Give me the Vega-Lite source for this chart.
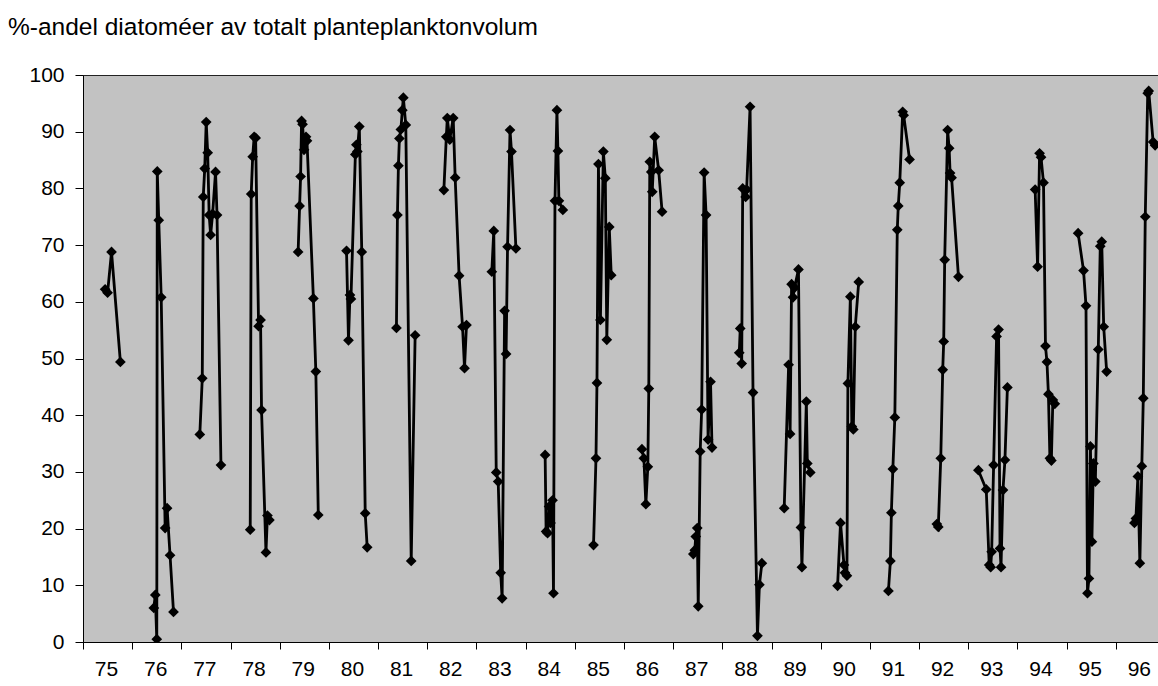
{
  "$schema": "https://vega.github.io/schema/vega-lite/v6.json",
  "width": 1075,
  "height": 567,
  "autosize": {"type": "none"},
  "padding": {"left": 83, "top": 75, "right": 0, "bottom": 44},
  "background": "white",
  "title": {
    "text": "%-andel diatoméer av totalt planteplanktonvolum",
    "anchor": "start",
    "frame": "group",
    "dx": -75,
    "offset": 24,
    "fontSize": 24.5,
    "font": "Liberation Sans",
    "fontWeight": "normal",
    "color": "#000000"
  },
  "config": {
    "view": {"fill": "#c2c2c2", "stroke": "#222222", "strokeWidth": 1},
    "axis": {
      "labelFont": "Liberation Sans",
      "labelFontSize": 21,
      "labelColor": "#000000",
      "domainColor": "#000000",
      "tickColor": "#000000",
      "grid": false,
      "title": null
    }
  },
  "data": {
    "values": [
      {"season": 75, "yr": 75.45, "pct": 62.2}, {"season": 75, "yr": 75.50, "pct": 61.6}, {"season": 75, "yr": 75.58, "pct": 68.8}, {"season": 75, "yr": 75.76, "pct": 49.4},
      {"season": 76, "yr": 76.44, "pct": 6.0}, {"season": 76, "yr": 76.47, "pct": 8.3}, {"season": 76, "yr": 76.50, "pct": 0.5}, {"season": 76, "yr": 76.51, "pct": 83.0}, {"season": 76, "yr": 76.54, "pct": 74.4}, {"season": 76, "yr": 76.59, "pct": 60.8}, {"season": 76, "yr": 76.67, "pct": 20.1}, {"season": 76, "yr": 76.71, "pct": 23.6}, {"season": 76, "yr": 76.77, "pct": 15.3}, {"season": 76, "yr": 76.84, "pct": 5.3},
      {"season": 77, "yr": 77.375, "pct": 36.6}, {"season": 77, "yr": 77.425, "pct": 46.5}, {"season": 77, "yr": 77.445, "pct": 78.5}, {"season": 77, "yr": 77.475, "pct": 83.5}, {"season": 77, "yr": 77.505, "pct": 91.7}, {"season": 77, "yr": 77.535, "pct": 86.3}, {"season": 77, "yr": 77.565, "pct": 75.3}, {"season": 77, "yr": 77.595, "pct": 71.8}, {"season": 77, "yr": 77.635, "pct": 75.5}, {"season": 77, "yr": 77.695, "pct": 82.9}, {"season": 77, "yr": 77.725, "pct": 75.3}, {"season": 77, "yr": 77.805, "pct": 31.2},
      {"season": 78, "yr": 78.40, "pct": 19.8}, {"season": 78, "yr": 78.42, "pct": 79.0}, {"season": 78, "yr": 78.45, "pct": 85.6}, {"season": 78, "yr": 78.48, "pct": 89.1}, {"season": 78, "yr": 78.51, "pct": 88.9}, {"season": 78, "yr": 78.57, "pct": 55.7}, {"season": 78, "yr": 78.61, "pct": 56.8}, {"season": 78, "yr": 78.63, "pct": 40.9}, {"season": 78, "yr": 78.72, "pct": 15.8}, {"season": 78, "yr": 78.75, "pct": 22.3}, {"season": 78, "yr": 78.79, "pct": 21.5},
      {"season": 79, "yr": 79.374, "pct": 68.8}, {"season": 79, "yr": 79.404, "pct": 76.9}, {"season": 79, "yr": 79.424, "pct": 82.1}, {"season": 79, "yr": 79.444, "pct": 91.9}, {"season": 79, "yr": 79.464, "pct": 91.3}, {"season": 79, "yr": 79.494, "pct": 86.8}, {"season": 79, "yr": 79.534, "pct": 89.1}, {"season": 79, "yr": 79.554, "pct": 88.4}, {"season": 79, "yr": 79.684, "pct": 60.6}, {"season": 79, "yr": 79.734, "pct": 47.7}, {"season": 79, "yr": 79.784, "pct": 22.4},
      {"season": 80, "yr": 80.358, "pct": 69.0}, {"season": 80, "yr": 80.398, "pct": 53.2}, {"season": 80, "yr": 80.428, "pct": 61.2}, {"season": 80, "yr": 80.448, "pct": 60.5}, {"season": 80, "yr": 80.538, "pct": 86.0}, {"season": 80, "yr": 80.558, "pct": 87.7}, {"season": 80, "yr": 80.578, "pct": 86.5}, {"season": 80, "yr": 80.618, "pct": 90.9}, {"season": 80, "yr": 80.668, "pct": 68.8}, {"season": 80, "yr": 80.738, "pct": 22.7}, {"season": 80, "yr": 80.778, "pct": 16.7},
      {"season": 81, "yr": 81.373, "pct": 55.4}, {"season": 81, "yr": 81.393, "pct": 75.3}, {"season": 81, "yr": 81.413, "pct": 84.0}, {"season": 81, "yr": 81.433, "pct": 88.8}, {"season": 81, "yr": 81.463, "pct": 90.4}, {"season": 81, "yr": 81.493, "pct": 93.8}, {"season": 81, "yr": 81.513, "pct": 96.0}, {"season": 81, "yr": 81.563, "pct": 91.2}, {"season": 81, "yr": 81.673, "pct": 14.3}, {"season": 81, "yr": 81.753, "pct": 54.1},
      {"season": 82, "yr": 82.337, "pct": 79.7}, {"season": 82, "yr": 82.387, "pct": 89.1}, {"season": 82, "yr": 82.407, "pct": 92.4}, {"season": 82, "yr": 82.457, "pct": 88.6}, {"season": 82, "yr": 82.527, "pct": 92.4}, {"season": 82, "yr": 82.567, "pct": 81.9}, {"season": 82, "yr": 82.647, "pct": 64.6}, {"season": 82, "yr": 82.717, "pct": 55.6}, {"season": 82, "yr": 82.757, "pct": 48.3}, {"season": 82, "yr": 82.797, "pct": 55.9},
      {"season": 83, "yr": 83.312, "pct": 65.3}, {"season": 83, "yr": 83.352, "pct": 72.5}, {"season": 83, "yr": 83.402, "pct": 29.9}, {"season": 83, "yr": 83.442, "pct": 28.3}, {"season": 83, "yr": 83.492, "pct": 12.2}, {"season": 83, "yr": 83.522, "pct": 7.7}, {"season": 83, "yr": 83.572, "pct": 58.4}, {"season": 83, "yr": 83.602, "pct": 50.8}, {"season": 83, "yr": 83.632, "pct": 69.7}, {"season": 83, "yr": 83.682, "pct": 90.3}, {"season": 83, "yr": 83.712, "pct": 86.5}, {"season": 83, "yr": 83.802, "pct": 69.4},
      {"season": 84, "yr": 84.396, "pct": 33.0}, {"season": 84, "yr": 84.416, "pct": 19.5}, {"season": 84, "yr": 84.446, "pct": 19.2}, {"season": 84, "yr": 84.476, "pct": 23.9}, {"season": 84, "yr": 84.506, "pct": 21.0}, {"season": 84, "yr": 84.546, "pct": 25.0}, {"season": 84, "yr": 84.566, "pct": 8.6}, {"season": 84, "yr": 84.596, "pct": 77.8}, {"season": 84, "yr": 84.636, "pct": 93.8}, {"season": 84, "yr": 84.656, "pct": 86.6}, {"season": 84, "yr": 84.676, "pct": 77.8}, {"season": 84, "yr": 84.756, "pct": 76.2},
      {"season": 85, "yr": 85.38, "pct": 17.1}, {"season": 85, "yr": 85.43, "pct": 32.4}, {"season": 85, "yr": 85.45, "pct": 45.7}, {"season": 85, "yr": 85.48, "pct": 84.3}, {"season": 85, "yr": 85.52, "pct": 56.8}, {"season": 85, "yr": 85.58, "pct": 86.5}, {"season": 85, "yr": 85.62, "pct": 81.8}, {"season": 85, "yr": 85.65, "pct": 53.3}, {"season": 85, "yr": 85.70, "pct": 73.2}, {"season": 85, "yr": 85.74, "pct": 64.7},
      {"season": 86, "yr": 86.364, "pct": 34.0}, {"season": 86, "yr": 86.404, "pct": 32.4}, {"season": 86, "yr": 86.444, "pct": 24.3}, {"season": 86, "yr": 86.484, "pct": 30.9}, {"season": 86, "yr": 86.504, "pct": 44.7}, {"season": 86, "yr": 86.524, "pct": 84.7}, {"season": 86, "yr": 86.554, "pct": 82.9}, {"season": 86, "yr": 86.574, "pct": 79.4}, {"season": 86, "yr": 86.624, "pct": 89.1}, {"season": 86, "yr": 86.704, "pct": 83.2}, {"season": 86, "yr": 86.774, "pct": 75.9},
      {"season": 87, "yr": 87.409, "pct": 15.5}, {"season": 87, "yr": 87.439, "pct": 16.2}, {"season": 87, "yr": 87.459, "pct": 18.6}, {"season": 87, "yr": 87.489, "pct": 20.1}, {"season": 87, "yr": 87.509, "pct": 6.3}, {"season": 87, "yr": 87.549, "pct": 33.6}, {"season": 87, "yr": 87.579, "pct": 41.0}, {"season": 87, "yr": 87.629, "pct": 82.8}, {"season": 87, "yr": 87.669, "pct": 75.3}, {"season": 87, "yr": 87.709, "pct": 35.7}, {"season": 87, "yr": 87.759, "pct": 45.9}, {"season": 87, "yr": 87.789, "pct": 34.3},
      {"season": 88, "yr": 88.343, "pct": 51.0}, {"season": 88, "yr": 88.363, "pct": 55.3}, {"season": 88, "yr": 88.393, "pct": 49.1}, {"season": 88, "yr": 88.413, "pct": 80.0}, {"season": 88, "yr": 88.473, "pct": 78.5}, {"season": 88, "yr": 88.493, "pct": 79.8}, {"season": 88, "yr": 88.563, "pct": 94.4}, {"season": 88, "yr": 88.623, "pct": 44.0}, {"season": 88, "yr": 88.713, "pct": 1.1}, {"season": 88, "yr": 88.753, "pct": 10.1}, {"season": 88, "yr": 88.803, "pct": 13.9},
      {"season": 89, "yr": 89.257, "pct": 23.6}, {"season": 89, "yr": 89.347, "pct": 48.9}, {"season": 89, "yr": 89.377, "pct": 36.7}, {"season": 89, "yr": 89.407, "pct": 63.1}, {"season": 89, "yr": 89.437, "pct": 60.8}, {"season": 89, "yr": 89.467, "pct": 62.5}, {"season": 89, "yr": 89.547, "pct": 65.7}, {"season": 89, "yr": 89.597, "pct": 20.2}, {"season": 89, "yr": 89.617, "pct": 13.2}, {"season": 89, "yr": 89.707, "pct": 42.4}, {"season": 89, "yr": 89.727, "pct": 31.5}, {"season": 89, "yr": 89.787, "pct": 29.9},
      {"season": 90, "yr": 90.342, "pct": 9.9}, {"season": 90, "yr": 90.402, "pct": 21.0}, {"season": 90, "yr": 90.472, "pct": 13.6}, {"season": 90, "yr": 90.492, "pct": 12.2}, {"season": 90, "yr": 90.532, "pct": 11.7}, {"season": 90, "yr": 90.552, "pct": 45.6}, {"season": 90, "yr": 90.602, "pct": 60.9}, {"season": 90, "yr": 90.632, "pct": 38.0}, {"season": 90, "yr": 90.662, "pct": 37.5}, {"season": 90, "yr": 90.702, "pct": 55.6}, {"season": 90, "yr": 90.772, "pct": 63.5},
      {"season": 91, "yr": 91.376, "pct": 9.0}, {"season": 91, "yr": 91.416, "pct": 14.3}, {"season": 91, "yr": 91.436, "pct": 22.8}, {"season": 91, "yr": 91.466, "pct": 30.5}, {"season": 91, "yr": 91.506, "pct": 39.6}, {"season": 91, "yr": 91.556, "pct": 72.7}, {"season": 91, "yr": 91.576, "pct": 76.9}, {"season": 91, "yr": 91.606, "pct": 81.0}, {"season": 91, "yr": 91.666, "pct": 93.5}, {"season": 91, "yr": 91.686, "pct": 92.9}, {"season": 91, "yr": 91.806, "pct": 85.1},
      {"season": 92, "yr": 92.36, "pct": 20.8}, {"season": 92, "yr": 92.39, "pct": 20.3}, {"season": 92, "yr": 92.44, "pct": 32.4}, {"season": 92, "yr": 92.48, "pct": 48.0}, {"season": 92, "yr": 92.50, "pct": 53.0}, {"season": 92, "yr": 92.52, "pct": 67.4}, {"season": 92, "yr": 92.58, "pct": 90.3}, {"season": 92, "yr": 92.61, "pct": 87.1}, {"season": 92, "yr": 92.63, "pct": 82.7}, {"season": 92, "yr": 92.66, "pct": 81.9}, {"season": 92, "yr": 92.80, "pct": 64.4},
      {"season": 93, "yr": 93.205, "pct": 30.3}, {"season": 93, "yr": 93.365, "pct": 26.9}, {"season": 93, "yr": 93.425, "pct": 13.6}, {"season": 93, "yr": 93.455, "pct": 13.2}, {"season": 93, "yr": 93.475, "pct": 15.9}, {"season": 93, "yr": 93.515, "pct": 31.2}, {"season": 93, "yr": 93.575, "pct": 53.9}, {"season": 93, "yr": 93.615, "pct": 55.1}, {"season": 93, "yr": 93.645, "pct": 16.5}, {"season": 93, "yr": 93.665, "pct": 13.2}, {"season": 93, "yr": 93.705, "pct": 26.8}, {"season": 93, "yr": 93.745, "pct": 32.1}, {"season": 93, "yr": 93.795, "pct": 44.9},
      {"season": 94, "yr": 94.359, "pct": 79.8}, {"season": 94, "yr": 94.409, "pct": 66.2}, {"season": 94, "yr": 94.449, "pct": 86.2}, {"season": 94, "yr": 94.479, "pct": 85.5}, {"season": 94, "yr": 94.529, "pct": 81.0}, {"season": 94, "yr": 94.569, "pct": 52.2}, {"season": 94, "yr": 94.599, "pct": 49.4}, {"season": 94, "yr": 94.629, "pct": 43.7}, {"season": 94, "yr": 94.659, "pct": 32.4}, {"season": 94, "yr": 94.689, "pct": 32.0}, {"season": 94, "yr": 94.719, "pct": 42.7}, {"season": 94, "yr": 94.759, "pct": 42.0},
      {"season": 95, "yr": 95.233, "pct": 72.1}, {"season": 95, "yr": 95.343, "pct": 65.5}, {"season": 95, "yr": 95.393, "pct": 59.3}, {"season": 95, "yr": 95.423, "pct": 8.6}, {"season": 95, "yr": 95.453, "pct": 11.2}, {"season": 95, "yr": 95.483, "pct": 34.5}, {"season": 95, "yr": 95.513, "pct": 17.7}, {"season": 95, "yr": 95.543, "pct": 31.5}, {"season": 95, "yr": 95.583, "pct": 28.3}, {"season": 95, "yr": 95.643, "pct": 51.6}, {"season": 95, "yr": 95.683, "pct": 69.8}, {"season": 95, "yr": 95.713, "pct": 70.6}, {"season": 95, "yr": 95.753, "pct": 55.6}, {"season": 95, "yr": 95.813, "pct": 47.7},
      {"season": 96, "yr": 96.378, "pct": 21.0}, {"season": 96, "yr": 96.408, "pct": 21.8}, {"season": 96, "yr": 96.448, "pct": 29.2}, {"season": 96, "yr": 96.488, "pct": 13.9}, {"season": 96, "yr": 96.528, "pct": 31.0}, {"season": 96, "yr": 96.558, "pct": 43.0}, {"season": 96, "yr": 96.598, "pct": 75.0}, {"season": 96, "yr": 96.648, "pct": 96.8}, {"season": 96, "yr": 96.668, "pct": 97.2}, {"season": 96, "yr": 96.758, "pct": 88.2}, {"season": 96, "yr": 96.798, "pct": 87.6}
    ]
  },
  "encoding": {
    "x": {
      "field": "yr",
      "type": "quantitative",
      "scale": {"domain": [75, 96.857], "nice": false, "zero": false},
      "axis": {
        "values": [75, 76, 77, 78, 79, 80, 81, 82, 83, 84, 85, 86, 87, 88, 89, 90, 91, 92, 93, 94, 95, 96],
        "format": "d",
        "labelOffset": 23,
        "labelFlush": false,
        "labelOverlap": false,
        "tickSize": 7,
        "labelPadding": 9
      }
    },
    "y": {
      "field": "pct",
      "type": "quantitative",
      "scale": {"domain": [0, 100], "nice": false},
      "axis": {
        "values": [0, 10, 20, 30, 40, 50, 60, 70, 80, 90, 100],
        "tickSize": 8,
        "labelPadding": 11,
        "labelFlush": false
      }
    }
  },
  "layer": [
    {
      "mark": {"type": "line", "color": "#000000", "strokeWidth": 2.8, "clip": true},
      "encoding": {"detail": {"field": "season", "type": "nominal"}}
    },
    {
      "mark": {"type": "point", "shape": "diamond", "filled": true, "color": "#000000", "size": 115, "opacity": 1, "clip": true}
    }
  ]
}
